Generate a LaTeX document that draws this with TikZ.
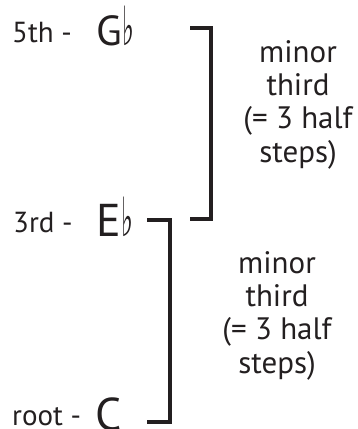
\documentclass[tikz,border=0pt]{standalone}
\usepackage{fontspec}
\usepackage{graphicx}
\setmainfont{PT Sans}
\newfontfamily\symfont{DejaVu Sans}
\usetikzlibrary{positioning}
\definecolor{inkblack}{HTML}{231F20}
\newcommand{\flatmark}{{\symfont\fontsize{36}{36}\selectfont\kern1pt\scalebox{0.7}[1.5]{♭}}}

\begin{document}
\begin{tikzpicture}[x=1pt, y=-1pt,
  degree/.style={anchor=base west, inner sep=0pt, text=inkblack, font=\fontsize{29}{29}\selectfont},
  note/.style={anchor=base west, inner sep=0pt, text=inkblack, font=\fontsize{46}{46}\selectfont},
  interval/.style={anchor=base, align=center, inner sep=0pt, text=inkblack, font=\fontsize{31}{33.3}\selectfont},
  bracket/.style={draw=inkblack, line width=3.5pt, line join=miter},
]
\useasboundingbox (0,0) rectangle (357,429);

% Chord tones (top to bottom)
\node[degree] (fifth) at (12,42)  {5th -};
\node[note, font=\fontsize{42}{42}\selectfont] (gflat) at (96,45) {G\flatmark};
\node[degree] (third) at (13,232) {3rd -};
\node[note]   (eflat) at (96,236) {E\flatmark};
\node[degree] (root)  at (12,425) {root -};
\node[note]   (cnat)  at (95,430) {C};

% Brackets
\coordinate (up-a) at (190,28);
\coordinate (up-b) at (190,219);
\draw[bracket] (up-a) -- ++(21,0) |- (up-b);
\coordinate (lo-a) at (147,220);
\coordinate (lo-b) at (147,422);
\draw[bracket] (lo-a) -- ++(23,0) |- (lo-b);

% Interval labels
\node[interval] (upper) at (298,162) {minor\\third\\(= 3 half\\steps)};
\node[interval] (lower) at (277,373) {minor\\third\\(= 3 half\\steps)};

\end{tikzpicture}
\end{document}
